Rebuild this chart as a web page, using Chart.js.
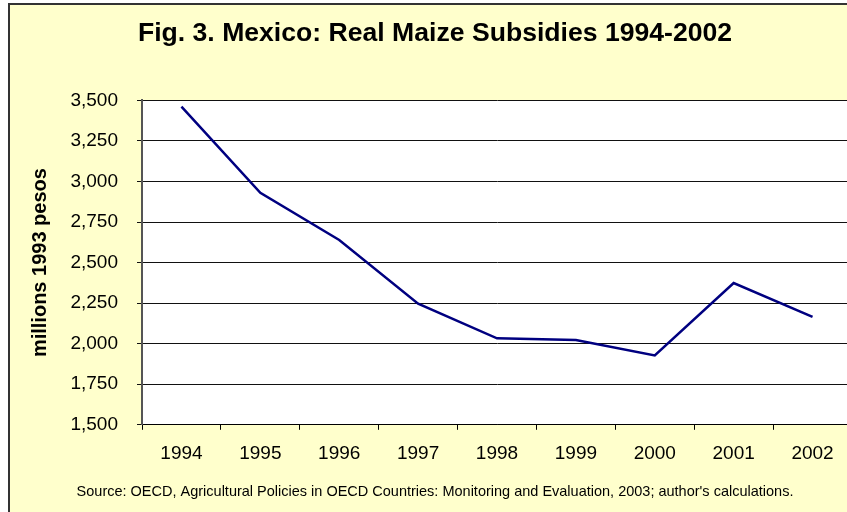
<!DOCTYPE html>
<html>
<head>
<meta charset="utf-8">
<script src="https://cdn.jsdelivr.net/npm/chart.js@4/dist/chart.umd.min.js"></script>
<style>
    html, body { margin: 0; padding: 0; background: #ffffff; overflow: hidden; }
    #fig {
        position: absolute; left: 8px; top: 3px;
        width: 870px; height: 530px;
        border: 2px solid #333333;
        background: #FFFFCC;
    }
    #wrap { position: absolute; left: 0; top: 0; width: 850px; height: 507px; }
</style>
</head>
<body>
<div id="fig"><div id="wrap"><canvas id="maizeChart"></canvas></div></div>
<script>
const years = ["1994", "1995", "1996", "1997", "1998", "1999", "2000", "2001", "2002"];
const subsidies = [3462, 2930, 2640, 2247, 2033, 2023, 1928, 2374, 2165];
const yTicks = [1500, 1750, 2000, 2250, 2500, 2750, 3000, 3250, 3500];

// white plot area on the yellow figure
const plotBackground = {
    id: 'plotBackground',
    beforeDraw(chart) {
        const { ctx, chartArea } = chart;
        ctx.save();
        ctx.fillStyle = '#ffffff';
        ctx.fillRect(chartArea.left, chartArea.top, chartArea.right - chartArea.left, chartArea.bottom - chartArea.top);
        ctx.restore();
    }
};

const ctx = document.getElementById("maizeChart").getContext("2d");

new Chart(ctx, {
    type: "line",
    data: {
        labels: years,
        datasets: [
            {
                label: "Real maize subsidies",
                data: subsidies,
                borderColor: "#000080",
                borderWidth: 2.5,
                pointRadius: 0,
                tension: 0,
                fill: false,
            },
        ],
    },
    options: {
        responsive: true,
        maintainAspectRatio: false,
        animation: false,
        layout: { padding: { left: 8, right: 8, top: 0, bottom: 0 } },
        scales: {
            x: {
                offset: true,
                grid: {
                    offset: true,
                    drawOnChartArea: false,
                    tickLength: 5,
                    color: "#000000",
                },
                border: { color: "#000000", width: 1 },
                ticks: {
                    padding: 13,
                    color: "#000000",
                    font: { family: "'Liberation Sans', Arial, sans-serif", size: 19 },
                },
            },
            y: {
                min: yTicks[0],
                max: yTicks[yTicks.length - 1],
                afterFit(scale) { scale.width = 124; },
                afterBuildTicks(scale) { scale.ticks = yTicks.map((v) => ({ value: v })); },
                grid: {
                    color: "#111111",
                    tickLength: 5,
                },
                border: { color: "#555555", width: 2 },
                ticks: {
                    padding: 19,
                    color: "#000000",
                    font: { family: "'Liberation Sans', Arial, sans-serif", size: 19 },
                    callback: (value) => value.toLocaleString("en-US"),
                },
                title: {
                    display: true,
                    text: "millions 1993 pesos",
                    color: "#000000",
                    padding: 10,
                    font: { family: "'Liberation Sans', Arial, sans-serif", size: 20, weight: "bold" },
                },
            },
        },
        plugins: {
            legend: { display: false },
            tooltip: { enabled: false },
            title: {
                display: true,
                text: "Fig. 3. Mexico: Real Maize Subsidies 1994-2002",
                color: "#000000",
                font: { family: "'Liberation Sans', Arial, sans-serif", size: 26.6, weight: "bold" },
                padding: { top: 12.5, bottom: 51 },
            },
            subtitle: {
                display: true,
                position: "bottom",
                text: "Source: OECD, Agricultural Policies in OECD Countries: Monitoring and Evaluation, 2003; author's calculations.",
                color: "#000000",
                font: { family: "'Liberation Sans', Arial, sans-serif", size: 14.5 },
                padding: { top: 5, bottom: 11 },
            },
        },
    },
    plugins: [plotBackground],
});
</script>
</body>
</html>
